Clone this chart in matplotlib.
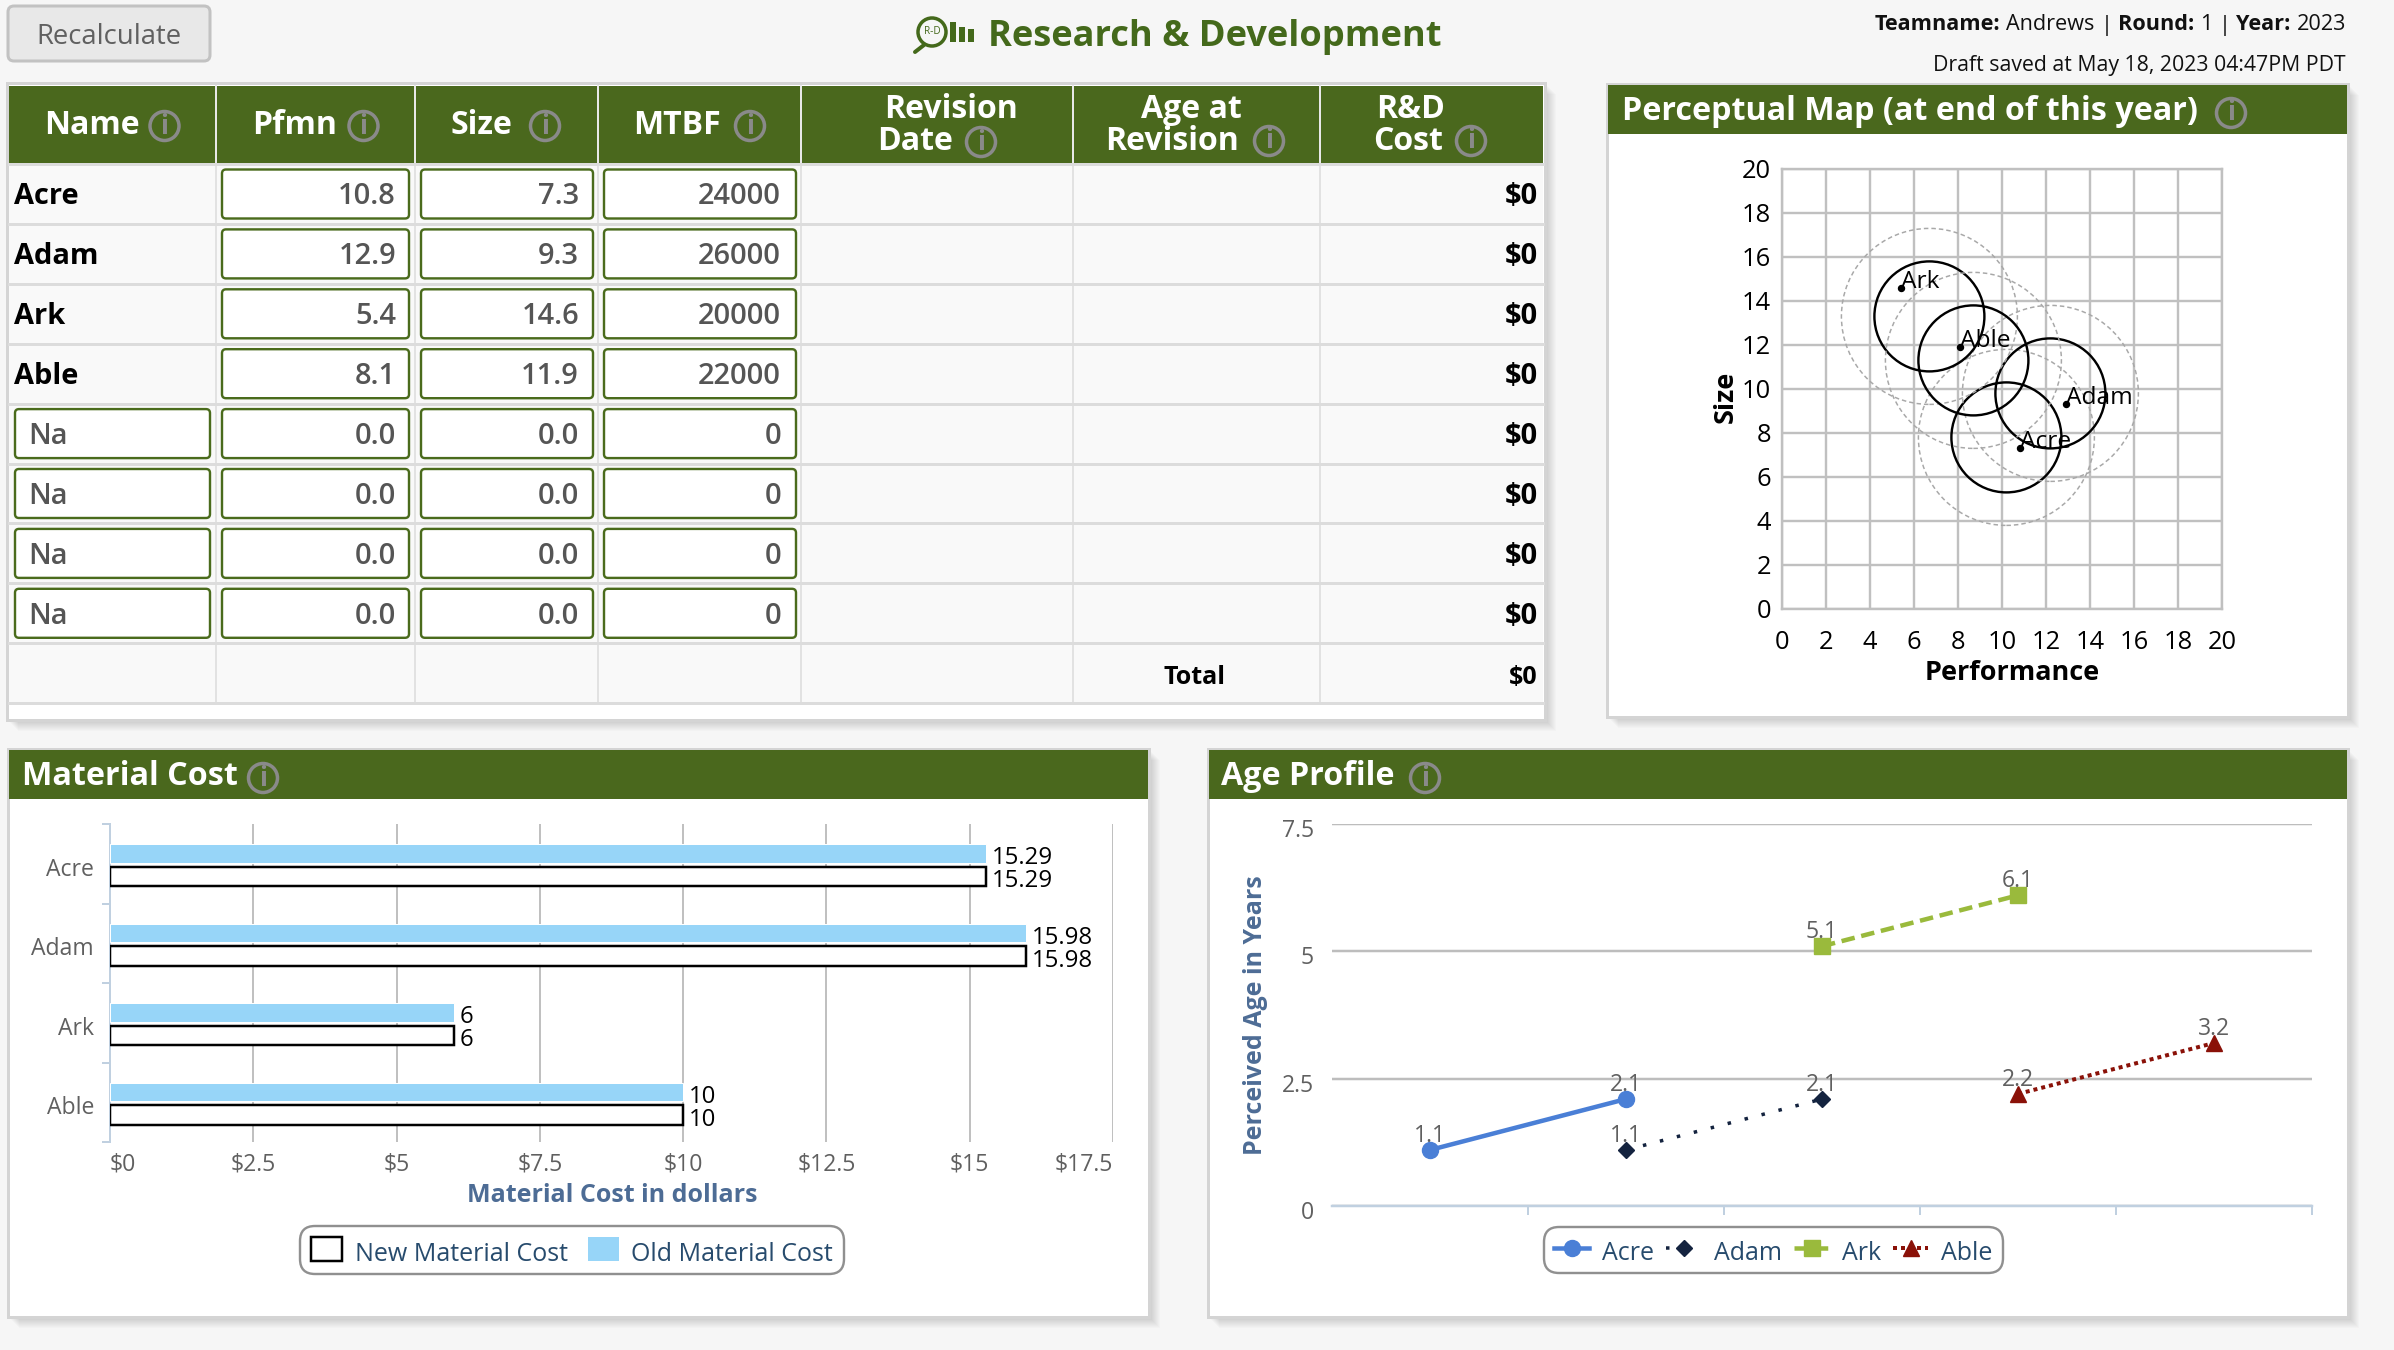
import numpy as np
import matplotlib
matplotlib.use('Agg')
import matplotlib.pyplot as plt
from matplotlib.patches import Circle, FancyBboxPatch, Patch, Rectangle
from matplotlib.transforms import ScaledTranslation

# table values
products = ['Acre', 'Adam', 'Ark', 'Able']
pfmn = ['10.8', '12.9', '5.4', '8.1']
size = ['7.3', '9.3', '14.6', '11.9']
mtbf = ['24000', '26000', '20000', '22000']
pfmn_num = [10.8, 12.9, 5.4, 8.1]
size_num = [7.3, 9.3, 14.6, 11.9]

# perceptual map circle centres
circle_x = [10.2, 12.2, 6.7, 8.7]
circle_y = [7.8, 9.8, 13.3, 11.3]

# material cost
old_cost = [15.29, 15.98, 6, 10]
new_cost = [15.29, 15.98, 6, 10]
cost_ticks = [0, 2.5, 5, 7.5, 10, 12.5, 15, 17.5]
cost_labels = ['$0', '$2.5', '$5', '$7.5', '$10', '$12.5', '$15', '$17.5']

# age profile, one slot per band on the x axis
acre_age = [1.1, 2.1, np.nan, np.nan, np.nan]
adam_age = [np.nan, 1.1, 2.1, np.nan, np.nan]
ark_age = [np.nan, np.nan, 5.1, 6.1, np.nan]
able_age = [np.nan, np.nan, np.nan, 2.2, 3.2]

W, H = 2394, 1350
GREEN = '#4a681d'
FONT = 'Open Sans'
plt.rcParams['font.family'] = [FONT, 'DejaVu Sans']


def pt(px):
    return px * 0.72


fig = plt.figure(figsize=(W / 100, H / 100), dpi=100, facecolor='#f6f6f6')
ui = fig.add_axes([0, 0, 1, 1])
ui.set_xlim(0, W)
ui.set_ylim(H, 0)
ui.axis('off')


def put(x, y, txt, **kw):
    # Open Sans sits about 3px high with va='center'
    return ui.text(x, y + 3, txt, **kw)


def chart_axes(x0, y0, x1, y1):
    ax = fig.add_axes([x0 / W, 1 - y1 / H, (x1 - x0) / W, (y1 - y0) / H])
    ax.patch.set_alpha(0)
    return ax


def info_icon(x, y):
    ui.add_patch(Circle((x, y), 14.5, fill=False, ec='#8a8a8a', lw=pt(3.5), zorder=6))
    ui.text(x, y, 'i', color='#8a8a8a', fontsize=pt(26), fontweight='bold', ha='center', va='center', zorder=6)


def panel(x0, y0, x1, y1, title=None, header=49, title_x=None, icon_x=None):
    for i in range(10):
        ui.add_patch(Rectangle((x0 + 2 + i, y0 + 2 + i), x1 - x0, y1 - y0, fc='black',
                               ec='none', alpha=0.016, zorder=1))
    ui.add_patch(Rectangle((x0, y0), x1 - x0, y1 - y0, fc='white', ec='#d4d4d4', lw=pt(3), zorder=2))
    if title:
        ui.add_patch(Rectangle((x0 + 1, y0 + 1), x1 - x0 - 2, header, fc=GREEN, ec='none', zorder=3))
        put(title_x, y0 + 1 + header / 2 - 1, title, color='white', fontsize=pt(32.3), fontweight='bold',
            ha='left', va='center', zorder=6)
        info_icon(icon_x, y0 + 29)


def runs_right(x, y, pieces, px=21.6):
    # pieces are laid out from the right edge, so each one needs the width of the last
    renderer = fig.canvas.get_renderer()
    for txt, weight in reversed(pieces):
        t = put(x, y, txt, fontsize=pt(px), fontweight=weight, ha='right', va='center', color='#111111')
        x -= t.get_window_extent(renderer).width + px * 0.27


# top strip
ui.add_patch(FancyBboxPatch((8, 6), 202, 55, boxstyle='round,pad=0,rounding_size=6', fc='#e8e8e8',
                            ec='#c2c2c2', lw=pt(3)))
put(109, 34, 'Recalculate', color='#606060', fontsize=pt(27.5), ha='center', va='center')

ui.add_patch(Circle((932, 32), 14, fill=False, ec='#44691b', lw=pt(3.5)))
ui.plot([924, 915], [45, 52], color='#44691b', lw=pt(4), solid_capstyle='round')
ui.text(932, 32, 'R-D', color='#44691b', fontsize=pt(10), ha='center', va='center')
ui.add_patch(Rectangle((950, 22), 6, 20, fc='#44691b', ec='none'))
ui.add_patch(Rectangle((959, 27), 6, 15, fc='#44691b', ec='none'))
ui.add_patch(Rectangle((968, 29), 6, 13, fc='#44691b', ec='none'))
put(988, 34, 'Research & Development', color='#44691b', fontsize=pt(36.3), fontweight='bold',
    ha='left', va='center')

runs_right(2346, 22, [('Teamname:', 'bold'), ('Andrews', 'normal'), ('|', 'normal'), ('Round:', 'bold'),
                      ('1', 'normal'), ('|', 'normal'), ('Year:', 'bold'), ('2023', 'normal')])
put(2346, 62, 'Draft saved at May 18, 2023 04:47PM PDT', fontsize=pt(21.3), ha='right', va='center',
    color='#111111')

# research table
col_x = [9, 216, 415, 598, 801, 1073, 1320, 1543]
row_y = [164 + 59.9 * i for i in range(10)]
panel(7, 83, 1545, 720)
ui.add_patch(Rectangle((9, 86), 1534, 78, fc=GREEN, ec='none', zorder=3))
ui.add_patch(Rectangle((9, 164), 1534, 539, fc='#f9f9f9', ec='none', zorder=3))
for x in col_x[1:-1]:
    ui.plot([x, x], [86, 164], color='#e8e8e8', lw=pt(2), zorder=4)
    ui.plot([x, x], [164, 703], color='#e2e2e2', lw=pt(2), zorder=4)
for y in row_y:
    ui.plot([9, 1543], [y, y], color='#dcdcdc', lw=pt(3), zorder=4)

head_font = dict(color='white', fontsize=pt(32), fontweight='bold', va='center', zorder=6)
for name, x0, ic in [('Name', 44, 164.5), ('Pfmn', 252, 363.5), ('Size', 451, 545), ('MTBF', 633, 750)]:
    put(x0, 122, name, ha='left', **head_font)
    info_icon(ic, 126)
put(951, 106, 'Revision', ha='center', **head_font)
put(877, 138, 'Date', ha='left', **head_font)
info_icon(981, 142)
put(1191, 106, 'Age at', ha='center', **head_font)
put(1105, 138, 'Revision', ha='left', **head_font)
info_icon(1269, 141)
put(1411, 106, 'R&D', ha='center', **head_font)
put(1373, 138, 'Cost', ha='left', **head_font)
info_icon(1471, 141)


def input_box(x0, x1, yc, txt, ha, tx):
    ui.add_patch(FancyBboxPatch((x0, yc - 24.5), x1 - x0, 49, boxstyle='round,pad=0,rounding_size=4',
                                fc='white', ec='#4a6b1c', lw=pt(2.4), zorder=5))
    put(tx, yc, txt, color='#555555', fontsize=pt(29), fontweight='semibold', ha=ha, va='center', zorder=6)


for r in range(8):
    yc = row_y[r] + 30
    if r < 4:
        put(14, yc, products[r], color='black', fontsize=pt(29), fontweight='bold', va='center', zorder=6)
        vals = pfmn[r], size[r], mtbf[r]
    else:
        input_box(15, 210, yc, 'Na', 'left', 28)
        vals = '0.0', '0.0', '0'
    input_box(222, 409, yc, vals[0], 'right', 396)
    input_box(421, 593, yc, vals[1], 'right', 579)
    input_box(604, 796, yc, vals[2], 'right', 781)
    put(1538, yc, '$0', color='black', fontsize=pt(29), fontweight='bold', ha='right', va='center', zorder=6)
put(1194, 674, 'Total', color='black', fontsize=pt(25), fontweight='bold', ha='center', va='center', zorder=6)
put(1538, 674, '$0', color='black', fontsize=pt(25), fontweight='bold', ha='right', va='center', zorder=6)

# perceptual map
panel(1607, 84, 2348, 717, 'Perceptual Map (at end of this year)', title_x=1622, icon_x=2231)
pm = chart_axes(1782, 169, 2222, 609)
pm.set_xlim(0, 20)
pm.set_ylim(0, 20)
pm.set_xticks(range(0, 21, 2))
pm.set_yticks(range(0, 21, 2))
pm.grid(True, color='#c0c0c0', lw=pt(2.4))
pm.set_axisbelow(True)
pm.tick_params(length=0, labelsize=pt(25.5), labelcolor='black')
pm.tick_params(axis='x', pad=pt(21))
pm.tick_params(axis='y', pad=pt(11))
for s in pm.spines.values():
    s.set_color('#c0c0c0')
    s.set_linewidth(pt(2.4))
for cx, cy in zip(circle_x, circle_y):
    pm.add_patch(Circle((cx, cy), 4, fill=False, ec='#a8a8a8', lw=pt(1.5), ls=(0, (3, 2))))
    pm.add_patch(Circle((cx, cy), 2.5, fill=False, ec='black', lw=pt(2.4)))
pm.plot(pfmn_num, size_num, 'o', color='black', ms=pt(6))
for n, x, y in zip(products, pfmn_num, size_num):
    pm.annotate(n, (x, y), xytext=(pt(0), pt(6)), textcoords='offset points', fontsize=pt(24.5),
                ha='left', va='center')
pm.set_xlabel('Performance', fontsize=pt(27), fontweight='bold', va='center')
pm.xaxis.set_label_coords(2012, 673, transform=ui.transData)
pm.set_ylabel('Size', fontsize=pt(27), fontweight='bold', va='center')
pm.yaxis.set_label_coords(1726, 397, transform=ui.transData)

# material cost
panel(8, 749, 1149, 1317, 'Material Cost', title_x=22, icon_x=263)
mc = chart_axes(110, 824, 1113, 1142)
mc.set_xlim(0, 17.5)
mc.set_ylim(4, 0)
bands = np.arange(len(products))
mc.barh(bands + 0.37, old_cost, height=0.235, color='#97d5f8', edgecolor='white', lw=pt(1), zorder=3,
        label='Old Material Cost')
mc.barh(bands + 0.66, new_cost, height=0.25, color='white', edgecolor='black', lw=pt(2.5), zorder=3,
        label='New Material Cost')
for i in range(len(products)):
    for yy, val in ((i + 0.37, old_cost[i]), (i + 0.66, new_cost[i])):
        mc.annotate('%g' % val, (val, yy), xytext=(pt(6), pt(-5)), textcoords='offset points',
                    fontsize=pt(24), ha='left', va='center', color='black', zorder=5)
mc.set_xticks(cost_ticks)
mc.set_xticklabels(cost_labels)
mc.set_yticks(bands + 0.5)
mc.set_yticklabels(products)
mc.set_yticks(range(5), minor=True)
mc.grid(True, axis='x', color='#c0c0c0', lw=pt(2))
mc.set_axisbelow(True)
mc.tick_params(axis='x', length=0, labelsize=pt(23), labelcolor='#606060', pad=pt(10))
mc.tick_params(axis='y', which='major', length=0, labelsize=pt(23), labelcolor='#606060', pad=pt(16))
mc.tick_params(axis='y', which='minor', length=pt(8), color='#c0d0e0', width=pt(2))
labs = mc.get_xticklabels()
labs[0].set_ha('left')
labs[-1].set_ha('right')
shift = ScaledTranslation(0, -3 / 100, fig.dpi_scale_trans)
for lab in mc.get_yticklabels():
    lab.set_transform(lab.get_transform() + shift)
for s in ('top', 'right', 'bottom'):
    mc.spines[s].set_visible(False)
mc.spines['left'].set_color('#c0d0e0')
mc.spines['left'].set_linewidth(pt(2))
mc.set_xlabel('Material Cost in dollars', color='#4d6c95', fontsize=pt(25), fontweight='bold', va='center')
mc.xaxis.set_label_coords(612, 1196, transform=ui.transData)


def box_legend(ax, handles, cx, cy, **kw):
    leg = ax.legend(handles=handles, loc='center', bbox_to_anchor=(cx, cy), bbox_transform=ui.transData,
                    ncol=len(handles), fontsize=pt(25), labelcolor='#274b6d', frameon=True, framealpha=1,
                    edgecolor='#909090', borderaxespad=0, **kw)
    leg.get_frame().set_linewidth(pt(2.4))
    leg.get_frame().set_boxstyle('round', pad=0, rounding_size=0.6)
    # legend text sits high in the box
    for t in leg.get_texts():
        t.set_y(-4)
    return leg


box_legend(mc, [Patch(fc='white', ec='black', lw=pt(2.5), label='New Material Cost'),
                Patch(fc='#97d5f8', ec='none', label='Old Material Cost')],
           572, 1250, handlelength=1.25, handleheight=1.1, handletextpad=0.5, columnspacing=0.8,
           borderpad=0.42)

# age profile
panel(1208, 749, 2348, 1317, 'Age Profile', title_x=1221, icon_x=1425)
ag = chart_axes(1332, 824, 2312, 1206)
ag.set_xlim(-0.5, 4.5)
ag.set_ylim(0, 7.5)
slots = np.arange(5)
ag.plot(slots, acre_age, color='#4a7fd6', lw=pt(4.5), marker='o', ms=pt(16), label='Acre')
ag.plot(slots, adam_age, color='#14233f', lw=pt(3.5), ls=(0, (1, 4)), marker='D', ms=pt(11), label='Adam')
ag.plot(slots, ark_age, color='#9aba3c', lw=pt(4.5), ls=(0, (3, 1.5)), marker='s', ms=pt(16), label='Ark')
ag.plot(slots, able_age, color='#8a1108', lw=pt(4), ls=(0, (1, 1)), marker='^', ms=pt(16), label='Able')
for series in (acre_age, adam_age, ark_age, able_age):
    for x, val in zip(slots, series):
        if not np.isnan(val):
            ag.annotate('%g' % val, (x, val), xytext=(0, pt(14)), textcoords='offset points', fontsize=pt(23),
                        ha='center', va='center', color='#606060')
ag.set_yticks([0, 2.5, 5, 7.5])
ag.set_yticklabels(['0', '2.5', '5', '7.5'])
ag.set_xticks([0.5, 1.5, 2.5, 3.5, 4.5])
ag.set_xticklabels([])
ag.grid(True, axis='y', color='#bdbdbd', lw=pt(2.5))
ag.set_axisbelow(True)
ag.tick_params(axis='y', length=0, labelsize=pt(23), labelcolor='#606060', pad=pt(18))
ag.tick_params(axis='x', length=pt(9), color='#c0d0e0', width=pt(2))
shift = ScaledTranslation(0, -4 / 100, fig.dpi_scale_trans)
for lab in ag.get_yticklabels():
    lab.set_transform(lab.get_transform() + shift)
for s in ('top', 'right', 'left'):
    ag.spines[s].set_visible(False)
ag.spines['bottom'].set_color('#c0d0e0')
ag.spines['bottom'].set_linewidth(pt(2.5))
ag.set_ylabel('Perceived Age in Years', color='#4d6c95', fontsize=pt(25), fontweight='bold', va='center')
ag.yaxis.set_label_coords(1256, 1015, transform=ui.transData)
box_legend(ag, ag.get_lines(), 1773, 1250, handlelength=1.4, handletextpad=0.5, columnspacing=0.5,
           borderpad=0.42)

fig.savefig('out.png', dpi=100, facecolor=fig.get_facecolor())
